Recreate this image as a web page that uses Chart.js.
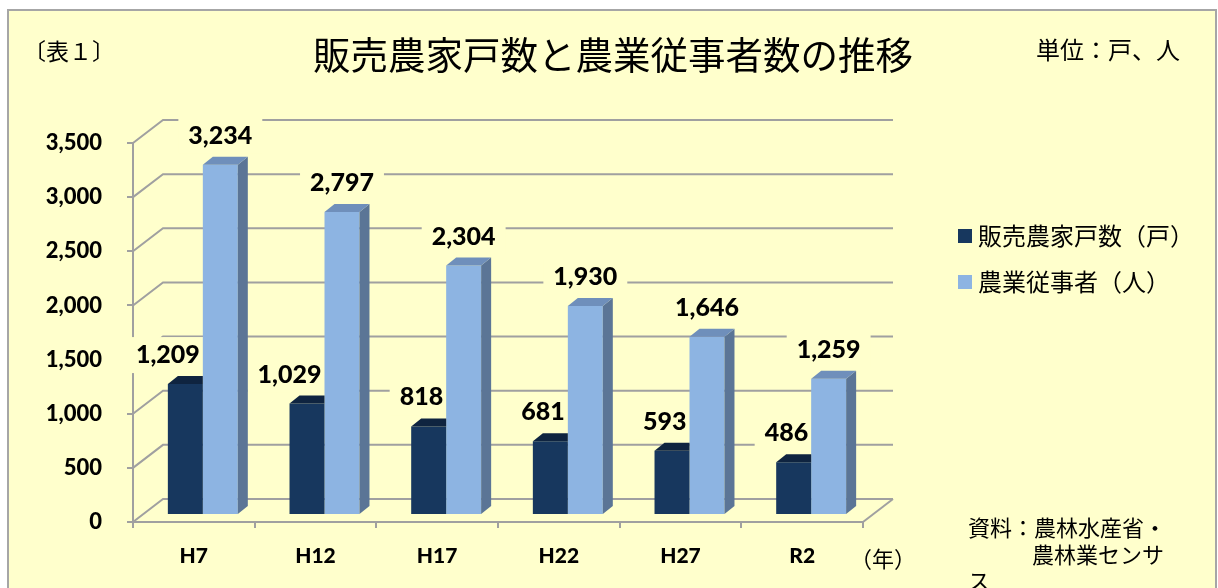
<!DOCTYPE html>
<html lang="ja">
<head>
<meta charset="utf-8">
<title>販売農家戸数と農業従事者数の推移</title>
<script src="https://cdn.jsdelivr.net/npm/chart.js@4.4.1/dist/chart.umd.min.js"></script>
<style>
  html, body { margin: 0; padding: 0; background: #fff; }
  body { width: 1218px; height: 588px; position: relative; overflow: hidden; font-family: "Noto Sans CJK JP", sans-serif; color: #000; }
  #frame { position: absolute; left: 7px; top: 9px; width: 1210px; height: 700px; box-sizing: border-box; border: 2px solid #a6a6a6; background: #ffffcc; }
  #wrap { position: absolute; left: 0; top: 0; width: 1218px; height: 588px; }
  .txt { position: absolute; white-space: nowrap; line-height: 1; }
  .legend-row { position: absolute; left: 958px; white-space: nowrap; line-height: 1; font-size: 24px; }
  .legend-row i { display: inline-block; width: 14px; height: 14px; margin-right: 6px; vertical-align: 2px; }
</style>
</head>
<body>
<div id="frame"></div>
<div id="wrap"><canvas id="chart"></canvas></div>

<div class="txt" style="left:23px; top:39px; font-size:23px;">〔表１〕</div>
<div class="txt" style="left:313px; top:34px; font-size:37.5px;">販売農家戸数と農業従事者数の推移</div>
<div class="txt" style="left:1036px; top:37px; font-size:24px;">単位：戸、人</div>

<div id="legend"></div>

<div class="txt" style="left:850px; top:546px; font-size:22px;">（年）</div>
<div class="txt" style="left:968px; top:513px; font-size:22px; line-height:26.5px;">資料：農林水産省・<br><span style="margin-left:64px;">農林業センサ</span><br>ス</div>

<script>
// data
const categories = ['H7', 'H12', 'H17', 'H22', 'H27', 'R2'];
const farmHouseholds = [1209, 1029, 818, 681, 593, 486];   // 販売農家戸数（戸）
const farmWorkers = [3234, 2797, 2304, 1930, 1646, 1259];  // 農業従事者（人）
const seriesNames = ['販売農家戸数（戸）', '農業従事者（人）'];
const yMax = 3500;
const yStep = 500;

// colours
const BG = '#ffffcc';
const GRID = '#a0a0a0';
const DARK = '#17375e', DARK_TOP = '#0f2440';
const LIGHT = '#8db4e2', LIGHT_SIDE = '#5b7596', LIGHT_TOP = '#6f8fbb';

// fake 3d: back wall offset, where the bars stand, bar thickness
const WALL_DX = 30, WALL_DY = -23;
const SHIFT_X = 9, SHIFT_Y = -7;
const BAR_DX = 10, BAR_DY = -8;

const labelFont = '900 25px Lato, "Noto Sans", sans-serif';

function labelSpots(chart) {
    // position of every value label, taken from the bar elements
    const spots = [];
    chart.data.datasets.forEach((ds, i) => {
        const meta = chart.getDatasetMeta(i);
        meta.data.forEach((el, j) => {
            const p = el.getProps(['x', 'y', 'width'], true);
            const text = ds.data[j].toLocaleString('en-US');
            let x, align;
            if (i === 0) {
                x = p.x + p.width / 2 + SHIFT_X - 3;
                align = 'right';
            } else {
                x = p.x + SHIFT_X;
                align = 'center';
            }
            spots.push({ text, x, y: p.y + SHIFT_Y - 29, align });
        });
    });
    return spots;
}

const box3d = {
    id: 'box3d',
    beforeDatasetsDraw(chart) {
        const { ctx, chartArea: a, scales: { y } } = chart;
        ctx.save();
        ctx.strokeStyle = GRID;
        ctx.lineWidth = 2;
        // back wall grid lines with the little diagonals from the front axis
        y.ticks.forEach((t) => {
            const py = y.getPixelForValue(t.value);
            ctx.beginPath();
            ctx.moveTo(a.left, py);
            ctx.lineTo(a.left + WALL_DX, py + WALL_DY);
            ctx.lineTo(a.right + WALL_DX, py + WALL_DY);
            ctx.stroke();
        });
        // right edge of the floor
        ctx.beginPath();
        ctx.moveTo(a.right, a.bottom);
        ctx.lineTo(a.right + WALL_DX, a.bottom + WALL_DY);
        ctx.stroke();

        // label backgrounds hide the grid behind the numbers
        ctx.font = labelFont;
        ctx.fillStyle = BG;
        labelSpots(chart).forEach((s) => {
            const w = ctx.measureText(s.text).width;
            let left = s.align === 'right' ? s.x - w : s.x - w / 2;
            ctx.fillRect(left - 10, s.y - 18, w + 20, 36);
        });
        ctx.restore();

        // bars stand a bit behind the front edge
        ctx.save();
        ctx.translate(SHIFT_X, SHIFT_Y);
    },
    afterDatasetDraw(chart, args) {
        const ctx = chart.ctx;
        const i = args.index;
        args.meta.data.forEach((el) => {
            const p = el.getProps(['x', 'y', 'base', 'width'], true);
            const l = p.x - p.width / 2, r = p.x + p.width / 2, top = p.y;
            if (i === 1) {
                ctx.fillStyle = LIGHT_SIDE;
                ctx.beginPath();
                ctx.moveTo(r, top);
                ctx.lineTo(r + BAR_DX, top + BAR_DY);
                ctx.lineTo(r + BAR_DX, p.base + BAR_DY);
                ctx.lineTo(r, p.base);
                ctx.closePath();
                ctx.fill();
                ctx.fillStyle = LIGHT_TOP;
                ctx.beginPath();
                ctx.moveTo(l, top);
                ctx.lineTo(l + BAR_DX, top + BAR_DY);
                ctx.lineTo(r + BAR_DX, top + BAR_DY);
                ctx.lineTo(r, top);
                ctx.closePath();
                ctx.fill();
            } else {
                // dark bar: side is hidden by the light bar, top is cut at its edge
                ctx.fillStyle = DARK_TOP;
                ctx.beginPath();
                ctx.moveTo(l, top);
                ctx.lineTo(l + BAR_DX, top + BAR_DY);
                ctx.lineTo(r, top + BAR_DY);
                ctx.lineTo(r, top);
                ctx.closePath();
                ctx.fill();
            }
        });
    },
    afterDatasetsDraw(chart) {
        const ctx = chart.ctx;
        ctx.restore();
        ctx.save();
        ctx.font = labelFont;
        ctx.fillStyle = '#000';
        ctx.textBaseline = 'middle';
        labelSpots(chart).forEach((s) => {
            ctx.textAlign = s.align;
            ctx.fillText(s.text, s.x, s.y);
        });
        ctx.restore();
    }
};

new Chart(document.getElementById('chart'), {
    type: 'bar',
    data: {
        labels: categories,
        datasets: [
            { label: seriesNames[0], data: farmHouseholds, backgroundColor: DARK, clip: false },
            { label: seriesNames[1], data: farmWorkers, backgroundColor: LIGHT, clip: false }
        ]
    },
    options: {
        responsive: true,
        maintainAspectRatio: false,
        animation: false,
        categoryPercentage: 0.575,
        barPercentage: 1,
        layout: { padding: { left: 0, right: 355, top: 143, bottom: 0 } },
        plugins: {
            legend: { display: false },
            tooltip: { enabled: false }
        },
        scales: {
            x: {
                grid: { drawOnChartArea: false, drawTicks: true, tickLength: 6, color: GRID, lineWidth: 2, offset: true },
                border: { display: true, color: GRID, width: 2 },
                ticks: { color: '#000', padding: 16, font: { family: 'Lato', weight: '900', size: 21 } },
                afterFit(scale) { scale.height = 66; }
            },
            y: {
                min: 0,
                max: yMax,
                grid: { drawOnChartArea: false, drawTicks: true, tickLength: 6, color: GRID, lineWidth: 2 },
                border: { display: true, color: GRID, width: 2 },
                ticks: {
                    stepSize: yStep,
                    color: '#000',
                    padding: 25,
                    font: { family: 'Lato', weight: '900', size: 22 },
                    callback: (v) => v.toLocaleString('en-US')
                },
                afterFit(scale) { scale.width = 133; }
            }
        }
    },
    plugins: [box3d]
});

// legend from the series names
const legend = document.getElementById('legend');
[DARK, LIGHT].forEach((c, i) => {
    const row = document.createElement('div');
    row.className = 'legend-row';
    row.style.top = (223 + i * 46) + 'px';
    row.innerHTML = `<i style="background:${c}"></i>${seriesNames[i]}`;
    legend.appendChild(row);
});
</script>
</body>
</html>
